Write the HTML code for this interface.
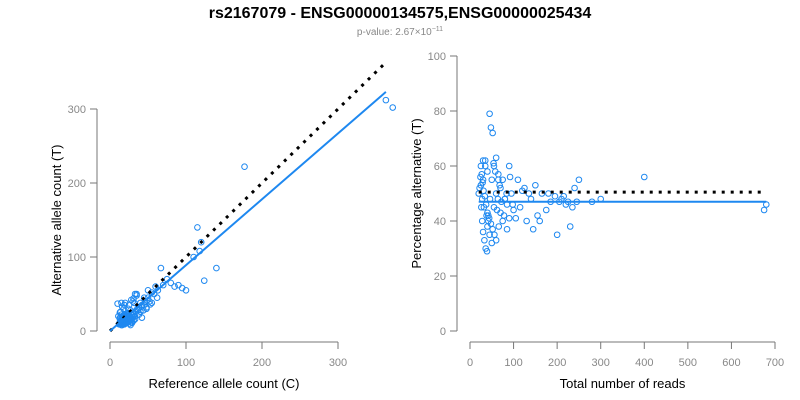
<!DOCTYPE html>
<html><head><meta charset="utf-8"><style>
html,body{margin:0;padding:0;background:#fff;}
svg{display:block;font-family:"Liberation Sans",Arial,sans-serif;}
</style></head><body>
<svg id="chart" width="800" height="400" viewBox="0 0 800 400">
<text x="400" y="18" text-anchor="middle" font-size="16" font-weight="bold" fill="#000">rs2167079 - ENSG00000134575,ENSG00000025434</text>
<text x="400" y="35" text-anchor="middle" font-size="10" fill="#888">p-value: 2.67×10<tspan dy="-4" font-size="7">−11</tspan></text>
<g id="left"></g>
<g id="right"></g>
</svg>
<script>
// Left panel data: reference vs alternative allele counts
const refCounts = [363,372,177,115,120,118,140,124,110,100,95,67,75,60,55,50,80,90,45,40,35,30,25,15,10,20,
 12,14,16,18,20,22,24,26,28,30,13,15,17,19,21,23,25,27,11,14,18,22,26,30,34,38,42,46,50,33,37,41,29,31,
 16,19,24,28,32,36,45,52,58,63,70,85,38,44,48,55,62,26,21,17,13,22,27,33,40,35,42,48,53,31,
 14,15,16,17,18,19,20,21,22,23,24,25,14,16,18,20,22,24,26,15,17,19,21,23,25,27,16,18,20,22,24,13,15,17,19,21,23,12,14,16,18,20,22,28,30,32,29,31,33];
const altCounts = [312,302,222,140,120,108,85,68,100,55,58,85,70,60,52,55,65,62,45,38,50,40,35,38,37,38,
 10,12,8,15,18,11,20,14,22,25,18,22,16,9,13,24,17,28,20,26,30,12,19,23,27,31,35,40,45,50,28,33,11,15,
 33,35,30,42,38,30,35,40,50,55,62,60,22,28,32,38,45,10,15,20,25,12,8,20,26,48,18,30,36,44,
 10,11,12,13,14,15,16,17,18,19,20,21,14,15,16,17,18,19,20,8,9,10,11,12,13,14,20,21,22,23,24,16,17,18,19,20,21,9,10,11,12,13,14,16,18,20,12,14,16];
const leftXTicks = [0,100,200,300];
const leftYTicks = [0,100,200,300];
const refLineEnd = 363;
const fitSlope = 0.89;

// Right panel data: total reads vs percentage alternative
const totalReads = [45,48,52,40,35,30,25,28,32,38,42,55,60,65,70,75,80,85,90,95,100,110,120,130,140,150,
 160,180,200,210,220,230,240,250,280,300,400,675,680,20,22,24,26,28,30,33,36,39,42,46,50,54,58,62,66,
 25,27,29,31,34,37,40,44,48,52,56,60,64,68,72,78,84,92,98,105,115,125,135,145,155,165,175,185,195,205,215,225,235,245,
 30,35,40,45,50,55,60,65,70,75,80,85,90];
const pctAlt = [79,74,72,58,62,55,53,48,45,42,40,60,63,57,52,55,48,46,60,50,44,55,51,40,48,53,
 40,50,35,48,46,38,52,55,47,48,56,44,46,50,52,56,45,40,36,33,30,29,42,48,55,61,58,44,38,
 60,57,54,51,49,46,43,41,39,37,35,33,48,53,47,42,50,56,46,41,45,52,50,37,42,50,44,47,49,47,49,47,45,47,
 62,60,38,35,32,45,50,55,43,40,48,37,41];
const rightXTicks = [0,100,200,300,400,500,600,700];
const rightYTicks = [0,20,40,60,80,100];
const expectedPct = 50.5;
const fitPct = 47;

const NS="http://www.w3.org/2000/svg";
function mk(parent,tag,attrs){const e=document.createElementNS(NS,tag);for(const k in attrs)e.setAttribute(k,attrs[k]);parent.appendChild(e);return e;}
const blue="#1e88f0", gray="#777";

function panel(g,cfg){
  const sx=v=>cfg.x0+(v-cfg.xmin)*(cfg.x1-cfg.x0)/(cfg.xmax-cfg.xmin);
  const sy=v=>cfg.y0-(v-cfg.ymin)*(cfg.y0-cfg.y1)/(cfg.ymax-cfg.ymin);
  const ya=mk(g,'line',{x1:cfg.yax,x2:cfg.yax,y1:sy(cfg.yt[0]),y2:sy(cfg.yt[cfg.yt.length-1]),stroke:gray});
   
  cfg.yt.forEach(t=>{
    const l=mk(g,'line',{x1:cfg.yax-7,x2:cfg.yax,y1:sy(t),y2:sy(t),stroke:gray});
     
    const tx=mk(g,'text',{x:cfg.yax-11,y:sy(t)+4,'text-anchor':'end','font-size':11,fill:'#888'});
    tx.textContent=t;
     
  });
  const xa=mk(g,'line',{x1:sx(cfg.xt[0]),x2:sx(cfg.xt[cfg.xt.length-1]),y1:cfg.xay,y2:cfg.xay,stroke:gray});
   
  cfg.xt.forEach(t=>{
    const l=mk(g,'line',{x1:sx(t),x2:sx(t),y1:cfg.xay,y2:cfg.xay+7,stroke:gray});
     
    const tx=mk(g,'text',{x:sx(t),y:cfg.xay+24,'text-anchor':'middle','font-size':11,fill:'#888'});
    tx.textContent=t;
     
  });
  const xt=mk(g,'text',{x:(cfg.x0+sx(cfg.xt[cfg.xt.length-1]))/2,y:388,'text-anchor':'middle','font-size':13,fill:'#000'});
  xt.textContent=cfg.xlabel;
   
  const yy=(sy(cfg.yt[0])+sy(cfg.yt[cfg.yt.length-1]))/2;
  const yt=mk(g,'text',{x:0,y:0,transform:`translate(${cfg.yax-36},${yy}) rotate(-90)`,'text-anchor':'middle','font-size':13,fill:'#000'});
  yt.textContent=cfg.ylabel;
   
  return {sx,sy};
}

const L=panel(document.getElementById('left'),{x0:110,x1:338,xmin:0,xmax:300,y0:331,y1:109,ymin:0,ymax:300,yax:97,xay:342,xt:leftXTicks,yt:leftYTicks,xlabel:'Reference allele count (C)',ylabel:'Alternative allele count (T)'});
const gl=document.getElementById('left');
refCounts.forEach((r,i)=>{
  const c=mk(gl,'circle',{cx:L.sx(r),cy:L.sy(altCounts[i]),r:2.8,fill:'none',stroke:blue,'stroke-width':1});
   
});
const d1=mk(gl,'line',{x1:L.sx(0),y1:L.sy(0),x2:L.sx(refLineEnd),y2:L.sy(refLineEnd),stroke:'#000','stroke-width':3,'stroke-dasharray':'3 6'});
 
const f1=mk(gl,'line',{x1:L.sx(0),y1:L.sy(0),x2:L.sx(refLineEnd),y2:L.sy(refLineEnd*fitSlope),stroke:blue,'stroke-width':2});
 

const R=panel(document.getElementById('right'),{x0:470,x1:775,xmin:0,xmax:700,y0:331,y1:56,ymin:0,ymax:100,yax:457,xay:342,xt:rightXTicks,yt:rightYTicks,xlabel:'Total number of reads',ylabel:'Percentage alternative (T)'});
const gr=document.getElementById('right');
totalReads.forEach((t,i)=>{
  const c=mk(gr,'circle',{cx:R.sx(t),cy:R.sy(pctAlt[i]),r:2.8,fill:'none',stroke:blue,'stroke-width':1});
   
});
const d2=mk(gr,'line',{x1:R.sx(20),y1:R.sy(expectedPct),x2:R.sx(680),y2:R.sy(expectedPct),stroke:'#000','stroke-width':3,'stroke-dasharray':'3 6'});
 
const f2=mk(gr,'line',{x1:R.sx(20),y1:R.sy(fitPct),x2:R.sx(680),y2:R.sy(fitPct),stroke:blue,'stroke-width':2});
 
</script>
</body></html>
